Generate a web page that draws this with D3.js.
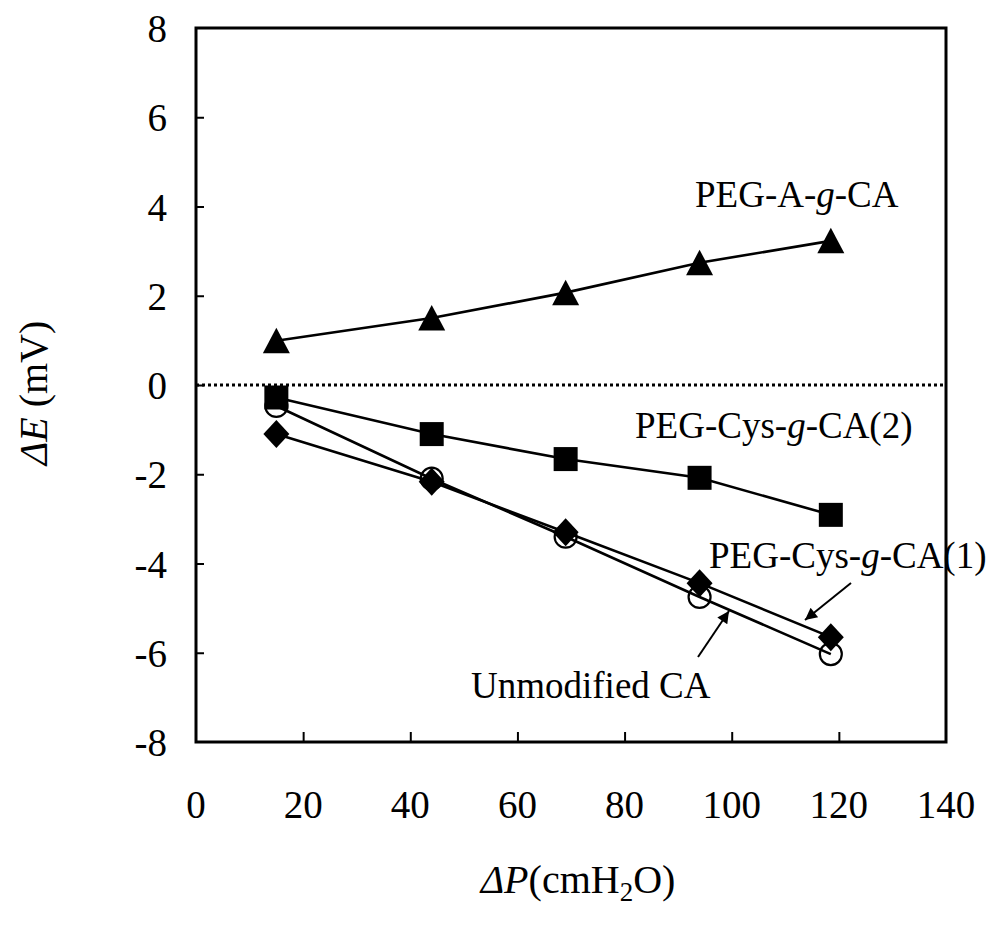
<!DOCTYPE html>
<html>
<head>
<meta charset="utf-8">
<script src="https://cdn.jsdelivr.net/npm/d3@7"></script>
<style>
  body { margin: 0; background: #fff; }
  svg { display: block; font-family: "Liberation Serif", "Times New Roman", serif; }
</style>
</head>
<body>
<svg id="chart" width="1001" height="926"></svg>
<script>
(function () {
    'use strict';

    // data
    var pressure = [15, 44, 69, 94, 118.5];
    var unmodifiedCA = [-0.47, -2.1, -3.4, -4.75, -6.03];
    var pegCys1 = [-1.1, -2.17, -3.3, -4.44, -5.65];
    var pegCys2 = [-0.28, -1.1, -1.66, -2.08, -2.91];
    var pegA = [0.99, 1.5, 2.07, 2.74, 3.23];
    var xTicks = [0, 20, 40, 60, 80, 100, 120, 140];
    var yTicks = [-8, -6, -4, -2, 0, 2, 4, 6, 8];

    var left = 196, right = 946, top = 28, bottom = 742;
    var svg = d3.select("#chart");

    var x = d3.scaleLinear().domain([0, 140]).range([left, right]);
    var y = d3.scaleLinear().domain([-8, 8]).range([bottom, top]);

    // zero reference line
    svg.append("line")
        .attr("x1", left).attr("x2", right)
        .attr("y1", y(0)).attr("y2", y(0))
        .style("stroke", "black")
        .style("stroke-width", "3px")
        .style("stroke-dasharray", "3,3");

    // axes, ticks pointing inward
    svg.append("g")
        .attr("transform", "translate(0," + bottom + ")")
        .call(d3.axisTop(x).tickValues(xTicks.slice(1, -1)).tickSize(10).tickFormat(""))
        .call(function (g) { g.select(".domain").remove(); })
        .selectAll("line").style("stroke-width", "2px");
    svg.append("g")
        .attr("transform", "translate(" + left + ",0)")
        .call(d3.axisRight(y).tickValues(yTicks.slice(1, -1)).tickSize(8).tickFormat(""))
        .call(function (g) { g.select(".domain").remove(); })
        .selectAll("line").style("stroke-width", "2px");

    svg.append("rect")
        .attr("x", left).attr("y", top)
        .attr("width", right - left).attr("height", bottom - top)
        .style("fill", "none")
        .style("stroke", "black")
        .style("stroke-width", "3px");

    svg.selectAll(".xlab")
        .data(xTicks)
        .enter()
        .append("text")
        .attr("x", function (d) { return x(d); })
        .attr("y", 818)
        .attr("text-anchor", "middle")
        .style("font-size", "39px")
        .text(function (d) { return d; });
    svg.selectAll(".ylab")
        .data(yTicks)
        .enter()
        .append("text")
        .attr("x", 167)
        .attr("y", function (d) { return y(d) + 14; })
        .attr("text-anchor", "end")
        .style("font-size", "39px")
        .text(function (d) { return d; });

    // axis titles
    var yt = svg.append("text")
        .attr("transform", "translate(47,393) rotate(-90)")
        .attr("text-anchor", "middle")
        .style("font-size", "40px");
    yt.append("tspan").style("font-style", "italic").text("\u0394E");
    yt.append("tspan").text(" (mV)");

    var xt = svg.append("text")
        .attr("x", 578).attr("y", 893)
        .attr("text-anchor", "middle")
        .style("font-size", "40px");
    xt.append("tspan").style("font-style", "italic").text("\u0394P");
    xt.append("tspan").text("(cmH");
    xt.append("tspan").attr("dy", 8).style("font-size", "27px").text("2");
    xt.append("tspan").attr("dy", -8).text("O)");

    // marker shapes
    var shapes = {
        circle: function (g) {
            g.append("circle").attr("r", 11)
                .style("fill", "none").style("stroke", "black").style("stroke-width", "2.2px");
        },
        diamond: function (g) {
            g.append("path").attr("d", "M0,-14L13,0L0,14L-13,0Z").style("fill", "black");
        },
        square: function (g) {
            g.append("rect").attr("x", -12).attr("y", -12).attr("width", 24).attr("height", 24)
                .style("fill", "black");
        },
        triangle: function (g) {
            g.append("path").attr("d", "M0,-13L13.5,12.5L-13.5,12.5Z").style("fill", "black");
        }
    };

    var series = [
        { values: unmodifiedCA, shape: "circle" },
        { values: pegCys1, shape: "diamond" },
        { values: pegCys2, shape: "square" },
        { values: pegA, shape: "triangle" }
    ];

    var line = d3.line()
        .x(function (d) { return x(d[0]); })
        .y(function (d) { return y(d[1]); });

    series.forEach(function (s) {
        var pts = d3.zip(pressure, s.values);
        svg.append("path")
            .datum(pts)
            .attr("d", line)
            .style("fill", "none")
            .style("stroke", "black")
            .style("stroke-width", "2.6px");
        svg.selectAll(".m-" + s.shape)
            .data(pts)
            .enter()
            .append("g")
            .attr("transform", function (d) { return "translate(" + x(d[0]) + "," + y(d[1]) + ")"; })
            .each(function () { shapes[s.shape](d3.select(this)); });
    });

    // labels
    function label(px, py, parts) {
        var t = svg.append("text").attr("x", px).attr("y", py).style("font-size", "37px");
        parts.forEach(function (p) {
            t.append("tspan").style("font-style", p[1] ? "italic" : "normal").text(p[0]);
        });
    }
    label(695, 207, [["PEG-A-"], ["g", 1], ["-CA"]]);
    label(635, 438, [["PEG-Cys-"], ["g", 1], ["-CA(2)"]]);
    label(709, 568, [["PEG-Cys-"], ["g", 1], ["-CA(1)"]]);
    label(471, 698, [["Unmodified CA"]]);

    // arrows
    svg.append("defs").append("marker")
        .attr("id", "head")
        .attr("viewBox", "0 0 10 10")
        .attr("refX", 10).attr("refY", 5)
        .attr("markerWidth", 16).attr("markerHeight", 12)
        .attr("markerUnits", "userSpaceOnUse")
        .attr("orient", "auto")
        .append("path").attr("d", "M0,0L10,5L0,10Z").style("fill", "black");

    svg.append("line")
        .attr("x1", 851).attr("y1", 583).attr("x2", 805).attr("y2", 620)
        .style("stroke", "black").style("stroke-width", "2px")
        .attr("marker-end", "url(#head)");
    svg.append("line")
        .attr("x1", 698).attr("y1", 657).attr("x2", 729).attr("y2", 611)
        .style("stroke", "black").style("stroke-width", "2px")
        .attr("marker-end", "url(#head)");
}());
</script>
</body>
</html>
